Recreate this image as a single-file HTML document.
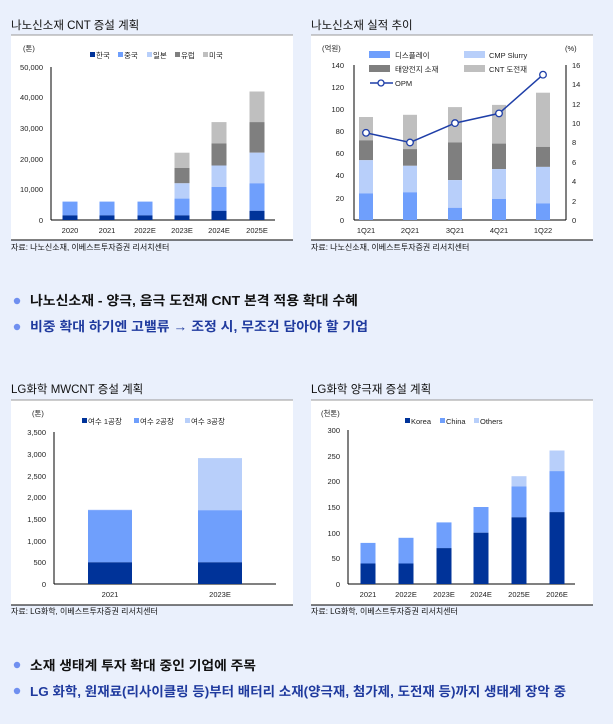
<!DOCTYPE html>
<html><head><meta charset="utf-8"><style>
html,body{margin:0;padding:0;background:#eaf0fc;}
svg{display:block;font-family:"Liberation Sans","Noto Sans CJK KR",sans-serif;}
.t{font-size:11.5px;fill:#111;}
.s{font-size:8px;fill:#111;}
.a{font-size:7.5px;fill:#222;}
.b{font-size:13px;font-weight:bold;}
</style></head><body>
<svg width="613" height="724" viewBox="0 0 613 724">
<rect width="613" height="724" fill="#eaf0fc"/>
<!-- Chart 1 -->
<text x="11" y="29" class="t">나노신소재 CNT 증설 계획</text>
<rect x="11" y="35" width="282" height="205" fill="#fff"/>
<line x1="11" y1="35" x2="293" y2="35" stroke="#999" stroke-width="1"/>
<line x1="11" y1="240" x2="293" y2="240" stroke="#000" stroke-width="1"/>
<text x="11" y="250" class="s">자료: 나노신소재, 이베스트투자증권 리서치센터</text>
<text x="23" y="51" class="a">(톤)</text>
<g class="a">
<rect x="90" y="52" width="5" height="5" fill="#003399"/><text x="96" y="58">한국</text>
<rect x="118" y="52" width="5" height="5" fill="#6f9ffc"/><text x="124" y="58">중국</text>
<rect x="147" y="52" width="5" height="5" fill="#b8cffa"/><text x="153" y="58">일본</text>
<rect x="175" y="52" width="5" height="5" fill="#7f7f7f"/><text x="181" y="58">유럽</text>
<rect x="203" y="52" width="5" height="5" fill="#bfbfbf"/><text x="209" y="58">미국</text>
</g>
<g class="a" text-anchor="end">
<text x="43" y="70">50,000</text><text x="43" y="100">40,000</text><text x="43" y="131">30,000</text><text x="43" y="162">20,000</text><text x="43" y="192">10,000</text><text x="43" y="223">0</text>
</g>
<line x1="51" y1="67" x2="51" y2="220" stroke="#000"/>
<line x1="51" y1="220" x2="275" y2="220" stroke="#000"/>
<g>
<rect x="62.5" y="201.6" width="15" height="13.8" fill="#6f9ffc"/><rect x="62.5" y="215.4" width="15" height="4.6" fill="#003399"/>
<rect x="99.5" y="201.6" width="15" height="13.8" fill="#6f9ffc"/><rect x="99.5" y="215.4" width="15" height="4.6" fill="#003399"/>
<rect x="137.5" y="201.6" width="15" height="13.8" fill="#6f9ffc"/><rect x="137.5" y="215.4" width="15" height="4.6" fill="#003399"/>
<rect x="174.5" y="152.7" width="15" height="15.3" fill="#bfbfbf"/><rect x="174.5" y="168" width="15" height="15.3" fill="#7f7f7f"/><rect x="174.5" y="183.3" width="15" height="15.3" fill="#b8cffa"/><rect x="174.5" y="198.6" width="15" height="16.8" fill="#6f9ffc"/><rect x="174.5" y="215.4" width="15" height="4.6" fill="#003399"/>
<rect x="211.5" y="122.1" width="15" height="21.4" fill="#bfbfbf"/><rect x="211.5" y="143.5" width="15" height="22" fill="#7f7f7f"/><rect x="211.5" y="165.5" width="15" height="21.5" fill="#b8cffa"/><rect x="211.5" y="187" width="15" height="23.8" fill="#6f9ffc"/><rect x="211.5" y="210.8" width="15" height="9.2" fill="#003399"/>
<rect x="249.5" y="91.5" width="15" height="30.6" fill="#bfbfbf"/><rect x="249.5" y="122.1" width="15" height="30.6" fill="#7f7f7f"/><rect x="249.5" y="152.7" width="15" height="30.6" fill="#b8cffa"/><rect x="249.5" y="183.3" width="15" height="27.5" fill="#6f9ffc"/><rect x="249.5" y="210.8" width="15" height="9.2" fill="#003399"/>
</g>
<g class="a" text-anchor="middle">
<text x="70" y="233">2020</text><text x="107" y="233">2021</text><text x="145" y="233">2022E</text><text x="182" y="233">2023E</text><text x="219" y="233">2024E</text><text x="257" y="233">2025E</text>
</g>

<!-- Chart 2 -->
<text x="311" y="29" class="t">나노신소재 실적 추이</text>
<rect x="311" y="35" width="282" height="205" fill="#fff"/>
<line x1="311" y1="35" x2="593" y2="35" stroke="#999"/>
<line x1="311" y1="240" x2="593" y2="240" stroke="#000"/>
<text x="311" y="250" class="s">자료: 나노신소재, 이베스트투자증권 리서치센터</text>
<text x="322" y="51" class="a">(억원)</text>
<text x="565" y="51" class="a">(%)</text>
<g class="a">
<rect x="369" y="51" width="21" height="7" fill="#6f9ffc"/><text x="395" y="58">디스플레이</text>
<rect x="464" y="51" width="21" height="7" fill="#b8cffa"/><text x="489" y="58">CMP Slurry</text>
<rect x="369" y="65" width="21" height="7" fill="#7f7f7f"/><text x="395" y="72">태양전지 소재</text>
<rect x="464" y="65" width="21" height="7" fill="#bfbfbf"/><text x="489" y="72">CNT 도전재</text>
<line x1="370" y1="83" x2="393" y2="83" stroke="#1f3fa8" stroke-width="1.5"/><circle cx="381" cy="83" r="3" fill="#fff" stroke="#1f3fa8" stroke-width="1.3"/><text x="395" y="86">OPM</text>
</g>
<g class="a" text-anchor="end">
<text x="344" y="68">140</text><text x="344" y="90">120</text><text x="344" y="112">100</text><text x="344" y="134">80</text><text x="344" y="156">60</text><text x="344" y="178">40</text><text x="344" y="201">20</text><text x="344" y="223">0</text>
</g>
<g class="a">
<text x="572" y="68">16</text><text x="572" y="87">14</text><text x="572" y="107">12</text><text x="572" y="126">10</text><text x="572" y="145">8</text><text x="572" y="165">6</text><text x="572" y="184">4</text><text x="572" y="204">2</text><text x="572" y="223">0</text>
</g>
<line x1="354" y1="65" x2="354" y2="220" stroke="#000"/>
<line x1="566" y1="65" x2="566" y2="220" stroke="#000"/>
<line x1="354" y1="220" x2="566" y2="220" stroke="#000"/>
<g>
<rect x="359" y="117" width="14" height="23.3" fill="#bfbfbf"/><rect x="359" y="140.3" width="14" height="19.9" fill="#7f7f7f"/><rect x="359" y="160.2" width="14" height="33.2" fill="#b8cffa"/><rect x="359" y="193.4" width="14" height="26.6" fill="#6f9ffc"/>
<rect x="403" y="114.8" width="14" height="34.3" fill="#bfbfbf"/><rect x="403" y="149.1" width="14" height="16.7" fill="#7f7f7f"/><rect x="403" y="165.8" width="14" height="26.5" fill="#b8cffa"/><rect x="403" y="192.3" width="14" height="27.7" fill="#6f9ffc"/>
<rect x="448" y="107.1" width="14" height="35.4" fill="#bfbfbf"/><rect x="448" y="142.5" width="14" height="37.6" fill="#7f7f7f"/><rect x="448" y="180.1" width="14" height="27.7" fill="#b8cffa"/><rect x="448" y="207.8" width="14" height="12.2" fill="#6f9ffc"/>
<rect x="492" y="104.9" width="14" height="38.7" fill="#bfbfbf"/><rect x="492" y="143.6" width="14" height="25.5" fill="#7f7f7f"/><rect x="492" y="169.1" width="14" height="29.9" fill="#b8cffa"/><rect x="492" y="199" width="14" height="21" fill="#6f9ffc"/>
<rect x="536" y="92.7" width="14" height="54.2" fill="#bfbfbf"/><rect x="536" y="146.9" width="14" height="20" fill="#7f7f7f"/><rect x="536" y="166.9" width="14" height="36.5" fill="#b8cffa"/><rect x="536" y="203.4" width="14" height="16.6" fill="#6f9ffc"/>
</g>
<polyline points="366,132.8 410,142.5 455,123.1 499,113.4 543,74.7" fill="none" stroke="#1f3fa8" stroke-width="1.5"/>
<g fill="#fff" stroke="#1f3fa8" stroke-width="1.3">
<circle cx="366" cy="132.8" r="3.3"/><circle cx="410" cy="142.5" r="3.3"/><circle cx="455" cy="123.1" r="3.3"/><circle cx="499" cy="113.4" r="3.3"/><circle cx="543" cy="74.7" r="3.3"/>
</g>
<g class="a" text-anchor="middle">
<text x="366" y="233">1Q21</text><text x="410" y="233">2Q21</text><text x="455" y="233">3Q21</text><text x="499" y="233">4Q21</text><text x="543" y="233">1Q22</text>
</g>

<!-- Bullets top -->
<circle cx="17" cy="301" r="3.2" fill="#6f8ff0"/>
<text x="30" y="305" class="b" fill="#111" textLength="328" lengthAdjust="spacingAndGlyphs">나노신소재 - 양극, 음극 도전재 CNT 본격 적용 확대 수혜</text>
<circle cx="17" cy="327" r="3.2" fill="#6f8ff0"/>
<text x="30" y="331" class="b" fill="#1f3a9e" textLength="338" lengthAdjust="spacingAndGlyphs">비중 확대 하기엔 고밸류 → 조정 시, 무조건 담아야 할 기업</text>

<!-- Chart 3 -->
<text x="11" y="393" class="t">LG화학 MWCNT 증설 계획</text>
<rect x="11" y="400" width="282" height="205" fill="#fff"/>
<line x1="11" y1="400" x2="293" y2="400" stroke="#999"/>
<line x1="11" y1="605" x2="293" y2="605" stroke="#000"/>
<text x="11" y="614" class="s">자료: LG화학, 이베스트투자증권 리서치센터</text>
<text x="32" y="416" class="a">(톤)</text>
<g class="a">
<rect x="82" y="418" width="5" height="5" fill="#003399"/><text x="88" y="424">여수 1공장</text>
<rect x="134" y="418" width="5" height="5" fill="#6f9ffc"/><text x="140" y="424">여수 2공장</text>
<rect x="185" y="418" width="5" height="5" fill="#b8cffa"/><text x="191" y="424">여수 3공장</text>
</g>
<g class="a" text-anchor="end">
<text x="46" y="435">3,500</text><text x="46" y="457">3,000</text><text x="46" y="479">2,500</text><text x="46" y="500">2,000</text><text x="46" y="522">1,500</text><text x="46" y="544">1,000</text><text x="46" y="565">500</text><text x="46" y="587">0</text>
</g>
<line x1="54" y1="432" x2="54" y2="584" stroke="#000"/>
<line x1="54" y1="584" x2="276" y2="584" stroke="#000"/>
<rect x="88" y="509.7" width="44" height="1" fill="#b8cffa"/>
<rect x="88" y="510.2" width="44" height="52.1" fill="#6f9ffc"/><rect x="88" y="562.3" width="44" height="21.7" fill="#003399"/>
<rect x="198" y="458.1" width="44" height="52.1" fill="#b8cffa"/><rect x="198" y="510.2" width="44" height="52.1" fill="#6f9ffc"/><rect x="198" y="562.3" width="44" height="21.7" fill="#003399"/>
<g class="a" text-anchor="middle"><text x="110" y="597">2021</text><text x="220" y="597">2023E</text></g>

<!-- Chart 4 -->
<text x="311" y="393" class="t">LG화학 양극재 증설 계획</text>
<rect x="311" y="400" width="282" height="205" fill="#fff"/>
<line x1="311" y1="400" x2="593" y2="400" stroke="#999"/>
<line x1="311" y1="605" x2="593" y2="605" stroke="#000"/>
<text x="311" y="614" class="s">자료: LG화학, 이베스트투자증권 리서치센터</text>
<text x="321" y="416" class="a">(천톤)</text>
<g class="a">
<rect x="405" y="418" width="5" height="5" fill="#003399"/><text x="411" y="424">Korea</text>
<rect x="440" y="418" width="5" height="5" fill="#6f9ffc"/><text x="446" y="424">China</text>
<rect x="474" y="418" width="5" height="5" fill="#b8cffa"/><text x="480" y="424">Others</text>
</g>
<g class="a" text-anchor="end">
<text x="340" y="433">300</text><text x="340" y="459">250</text><text x="340" y="484">200</text><text x="340" y="510">150</text><text x="340" y="536">100</text><text x="340" y="561">50</text><text x="340" y="587">0</text>
</g>
<line x1="348" y1="430" x2="348" y2="584" stroke="#000"/>
<line x1="348" y1="584" x2="575" y2="584" stroke="#000"/>
<g>
<rect x="360.5" y="542.9" width="15" height="20.6" fill="#6f9ffc"/><rect x="360.5" y="563.5" width="15" height="20.5" fill="#003399"/>
<rect x="398.5" y="537.8" width="15" height="25.7" fill="#6f9ffc"/><rect x="398.5" y="563.5" width="15" height="20.5" fill="#003399"/>
<rect x="436.5" y="522.4" width="15" height="25.7" fill="#6f9ffc"/><rect x="436.5" y="548.1" width="15" height="35.9" fill="#003399"/>
<rect x="473.5" y="507" width="15" height="25.7" fill="#6f9ffc"/><rect x="473.5" y="532.7" width="15" height="51.3" fill="#003399"/>
<rect x="511.5" y="476.2" width="15" height="10.3" fill="#b8cffa"/><rect x="511.5" y="486.5" width="15" height="30.8" fill="#6f9ffc"/><rect x="511.5" y="517.3" width="15" height="66.7" fill="#003399"/>
<rect x="549.5" y="450.5" width="15" height="20.6" fill="#b8cffa"/><rect x="549.5" y="471.1" width="15" height="41" fill="#6f9ffc"/><rect x="549.5" y="512.1" width="15" height="71.9" fill="#003399"/>
</g>
<g class="a" text-anchor="middle">
<text x="368" y="597">2021</text><text x="406" y="597">2022E</text><text x="444" y="597">2023E</text><text x="481" y="597">2024E</text><text x="519" y="597">2025E</text><text x="557" y="597">2026E</text>
</g>

<!-- Bullets bottom -->
<circle cx="17" cy="665" r="3.2" fill="#6f8ff0"/>
<text x="30" y="670" class="b" fill="#111" textLength="226" lengthAdjust="spacingAndGlyphs">소재 생태계 투자 확대 중인 기업에 주목</text>
<circle cx="17" cy="691" r="3.2" fill="#6f8ff0"/>
<text x="30" y="696" class="b" fill="#1f3a9e" textLength="536" lengthAdjust="spacingAndGlyphs">LG 화학, 원재료(리사이클링 등)부터 배터리 소재(양극재, 첨가제, 도전재 등)까지 생태계 장악 중</text>
</svg>
</body></html>
